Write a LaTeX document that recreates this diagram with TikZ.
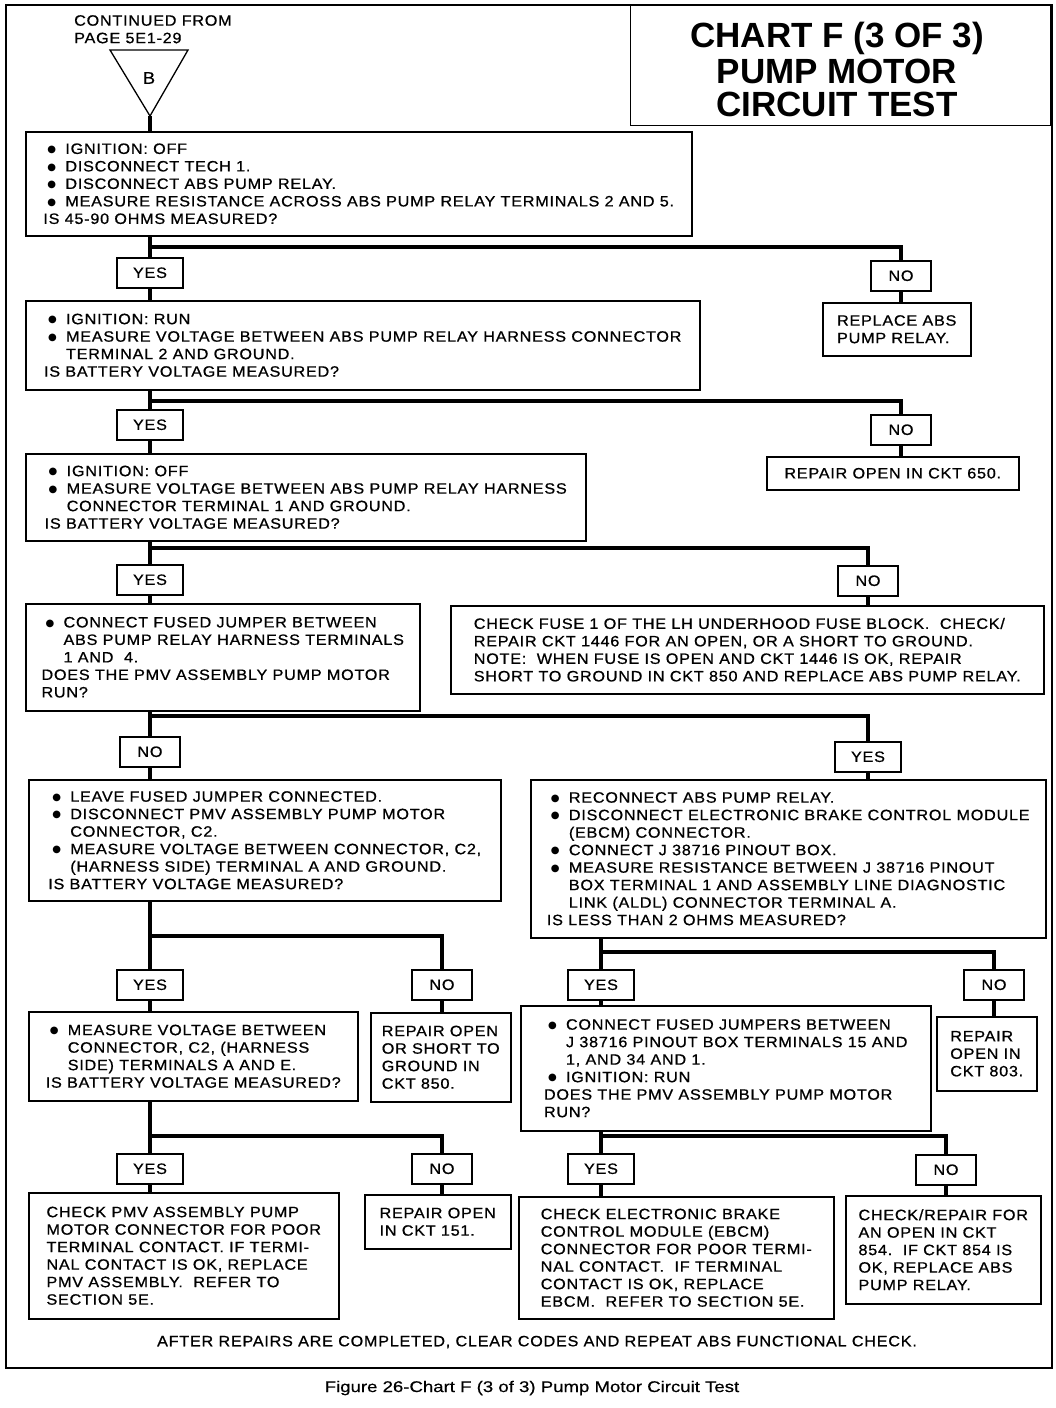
\documentclass[tikz,border=0pt]{standalone}
\usepackage{fontspec}
\setmainfont{Liberation Sans}[FakeStretch=1.08,LetterSpace=5,FakeBold=0.8]
\newfontfamily\ttlfamily{Liberation Sans}[FakeStretch=1.0]
\newfontfamily\capfamily{Liberation Sans}[FakeStretch=1.2,FakeBold=0.5]
\newfontfamily\symfam{DejaVu Sans}
\newcommand\chartbody{\fontsize{15}{17.5}\selectfont}
\newcommand\bl{\hspace*{4pt}\makebox[18pt][l]{\raisebox{1.2pt}{\symfam\fontsize{10}{10}\selectfont ●}}}
\newcommand\ind{\hspace*{22pt}}
\tikzset{
  box/.style={draw, line width=1.5pt, align=left, anchor=north west, inner sep=0pt, font=\chartbody},
  yn/.style={draw, line width=1.5pt, anchor=north, minimum height=30pt, inner sep=0pt, font=\chartbody},
  yesbox/.style={yn, minimum width=66pt},
  nobox/.style={yn, minimum width=60pt},
  conn/.style={line width=4pt},
  ttlline/.style={font={\ttlfamily\bfseries\fontsize{35}{35}\selectfont}, inner sep=0pt},
}
\begin{document}
\begin{tikzpicture}[x=1pt,y=-1pt]
\useasboundingbox (0,0) rectangle (1056,1408);
\draw[line width=1.3pt] (6,5) rectangle (1052,1368);

% title
\node[draw, line width=1.3pt, minimum width=420pt, minimum height=120pt, anchor=north west, inner sep=0pt] (tbox) at (630,5) {};
\node[ttlline] (ttl1) at (837,38) {CHART F (3 OF 3)};
\node[ttlline] (ttl2) at (837,71) {PUMP MOTOR};
\node[ttlline] (ttl3) at (837,104) {CIRCUIT TEST};

% continued
\node[font=\chartbody, align=left, anchor=north west, inner sep=0pt] (cont) at (74,15) {CONTINUED FROM\\PAGE 5E1-29};
\draw[line width=1.3pt] (110,50) -- (188,50) -- (150,116) -- cycle;
\coordinate (tri) at (150,116);
\node[font={\fontsize{17}{17}\selectfont}, inner sep=0pt] (tB) at (149,78) {B};

% boxes
\node[box, minimum width=666pt, minimum height=104pt] (b1) at (25,131) {\bl IGNITION: OFF\\\bl DISCONNECT TECH 1.\\\bl DISCONNECT ABS PUMP RELAY.\\\bl MEASURE RESISTANCE ACROSS ABS PUMP RELAY TERMINALS 2 AND 5.\\IS 45-90 OHMS MEASURED?};
\node[box, minimum width=674pt, minimum height=89pt] (b2) at (25,300) {\bl IGNITION: RUN\\\bl MEASURE VOLTAGE BETWEEN ABS PUMP RELAY HARNESS CONNECTOR\\\ind TERMINAL 2 AND GROUND.\\IS BATTERY VOLTAGE MEASURED?};
\node[box, minimum width=148pt, minimum height=53pt] (r1) at (822,302) {REPLACE ABS\\PUMP RELAY.};
\node[box, minimum width=560pt, minimum height=87pt] (b3) at (25,453) {\bl IGNITION: OFF\\\bl MEASURE VOLTAGE BETWEEN ABS PUMP RELAY HARNESS\\\ind CONNECTOR TERMINAL 1 AND GROUND.\\IS BATTERY VOLTAGE MEASURED?};
\node[box, minimum width=252pt, minimum height=33pt] (r2) at (766,456) {REPAIR OPEN IN CKT 650.};
\node[box, minimum width=394pt, minimum height=107pt] (b4) at (25,603) {\bl CONNECT FUSED JUMPER BETWEEN\\\ind ABS PUMP RELAY HARNESS TERMINALS\\\ind 1 AND\ \ 4.\\DOES THE PMV ASSEMBLY PUMP MOTOR\\RUN?};
\node[box, minimum width=593pt, minimum height=88pt] (r3) at (450,605) {CHECK FUSE 1 OF THE LH UNDERHOOD FUSE BLOCK.\ \ CHECK/\\REPAIR CKT 1446 FOR AN OPEN, OR A SHORT TO GROUND.\\NOTE:\ \ WHEN FUSE IS OPEN AND CKT 1446 IS OK, REPAIR\\SHORT TO GROUND IN CKT 850 AND REPLACE ABS PUMP RELAY.};
\node[box, minimum width=472pt, minimum height=121pt] (b5) at (28,779) {\bl LEAVE FUSED JUMPER CONNECTED.\\\bl DISCONNECT PMV ASSEMBLY PUMP MOTOR\\\ind CONNECTOR, C2.\\\bl MEASURE VOLTAGE BETWEEN CONNECTOR, C2,\\\ind (HARNESS SIDE) TERMINAL A AND GROUND.\\IS BATTERY VOLTAGE MEASURED?};
\node[box, minimum width=515pt, minimum height=158pt] (b6) at (530,779) {\bl RECONNECT ABS PUMP RELAY.\\\bl DISCONNECT ELECTRONIC BRAKE CONTROL MODULE\\\ind (EBCM) CONNECTOR.\\\bl CONNECT J 38716 PINOUT BOX.\\\bl MEASURE RESISTANCE BETWEEN J 38716 PINOUT\\\ind BOX TERMINAL 1 AND ASSEMBLY LINE DIAGNOSTIC\\\ind LINK (ALDL) CONNECTOR TERMINAL A.\\IS LESS THAN 2 OHMS MEASURED?};
\node[box, minimum width=329pt, minimum height=89pt] (b7) at (28,1011) {\bl MEASURE VOLTAGE BETWEEN\\\ind CONNECTOR, C2, (HARNESS\\\ind SIDE) TERMINALS A AND E.\\IS BATTERY VOLTAGE MEASURED?};
\node[box, minimum width=140pt, minimum height=89pt] (b8) at (370,1012) {REPAIR OPEN\\OR SHORT TO\\GROUND IN\\CKT 850.};
\node[box, minimum width=410pt, minimum height=125pt] (b9) at (520,1005) {\bl CONNECT FUSED JUMPERS BETWEEN\\\ind J 38716 PINOUT BOX TERMINALS 15 AND\\\ind 1, AND 34 AND 1.\\\bl IGNITION: RUN\\DOES THE PMV ASSEMBLY PUMP MOTOR\\RUN?};
\node[box, minimum width=100pt, minimum height=74pt] (b10) at (936,1016) {REPAIR\\OPEN IN\\CKT 803.};
\node[box, minimum width=310pt, minimum height=126pt] (b11) at (28,1192) {CHECK PMV ASSEMBLY PUMP\\MOTOR CONNECTOR FOR POOR\\TERMINAL CONTACT. IF TERMI-\\NAL CONTACT IS OK, REPLACE\\PMV ASSEMBLY.\ \ REFER TO\\SECTION 5E.};
\node[box, minimum width=146pt, minimum height=54pt] (b12) at (364,1194) {REPAIR OPEN\\IN CKT 151.};
\node[box, minimum width=315pt, minimum height=122pt] (b13) at (518,1196) {CHECK ELECTRONIC BRAKE\\CONTROL MODULE (EBCM)\\CONNECTOR FOR POOR TERMI-\\NAL CONTACT.\ \ IF TERMINAL\\CONTACT IS OK, REPLACE\\EBCM.\ \ REFER TO SECTION 5E.};
\node[box, minimum width=195pt, minimum height=108pt] (b14) at (845,1195) {CHECK/REPAIR FOR\\AN OPEN IN CKT\\854.\ \ IF CKT 854 IS\\OK, REPLACE ABS\\PUMP RELAY.};

% yes/no
\node[yesbox] (y1) at (150,257) {YES};
\node[nobox]  (n1) at (901,260) {NO};
\node[yesbox] (y2) at (150,409) {YES};
\node[nobox]  (n2) at (901,414) {NO};
\node[yesbox] (y3) at (150,564) {YES};
\node[nobox]  (n3) at (868,565) {NO};
\node[nobox]  (n4) at (150,736) {NO};
\node[yesbox] (y4) at (868,741) {YES};
\node[yesbox] (y5) at (150,969) {YES};
\node[nobox]  (n5) at (442,969) {NO};
\node[yesbox] (y6) at (601,969) {YES};
\node[nobox]  (n6) at (994,969) {NO};
\node[yesbox] (y7) at (150,1153) {YES};
\node[nobox]  (n7) at (442,1153) {NO};
\node[yesbox] (y8) at (601,1153) {YES};
\node[nobox]  (n8) at (946,1154) {NO};

% junctions
\coordinate (j1) at (150,247);
\coordinate (j2) at (150,401);
\coordinate (j3) at (150,548);
\coordinate (j4) at (150,716);
\coordinate (j5) at (150,936);
\coordinate (j6) at (601,952);
\coordinate (j7) at (150,1136);
\coordinate (j8) at (601,1136);

% connectors
\draw[conn] (tri) -- (b1.north -| tri);
\draw[conn] (b1.south -| j1) -- (y1.north);
\draw[conn] (j1) -| (n1.north);
\draw[conn] (y1.south) -- (b2.north -| y1);
\draw[conn] (n1.south) -- (r1.north -| n1);

\draw[conn] (b2.south -| j2) -- (y2.north);
\draw[conn] (j2) -| (n2.north);
\draw[conn] (y2.south) -- (b3.north -| y2);
\draw[conn] (n2.south) -- (r2.north -| n2);

\draw[conn] (b3.south -| j3) -- (y3.north);
\draw[conn] (j3) -| (n3.north);
\draw[conn] (y3.south) -- (b4.north -| y3);
\draw[conn] (n3.south) -- (r3.north -| n3);

\draw[conn] (b4.south -| j4) -- (n4.north);
\draw[conn] (j4) -| (y4.north);
\draw[conn] (n4.south) -- (b5.north -| n4);
\draw[conn] (y4.south) -- (b6.north -| y4);

\draw[conn] (b5.south -| j5) -- (y5.north);
\draw[conn] (j5) -| (n5.north);
\draw[conn] (y5.south) -- (b7.north -| y5);
\draw[conn] (n5.south) -- (b8.north -| n5);

\draw[conn] (b6.south -| j6) -- (y6.north);
\draw[conn] (j6) -| (n6.north);
\draw[conn] (y6.south) -- (b9.north -| y6);
\draw[conn] (n6.south) -- (b10.north -| n6);

\draw[conn] (b7.south -| j7) -- (y7.north);
\draw[conn] (j7) -| (n7.north);
\draw[conn] (y7.south) -- (b11.north -| y7);
\draw[conn] (n7.south) -- (b12.north -| n7);

\draw[conn] (b9.south -| j8) -- (y8.north);
\draw[conn] (j8) -| (n8.north);
\draw[conn] (y8.south) -- (b13.north -| y8);
\draw[conn] (n8.south) -- (b14.north -| n8);

% footer
\node[font=\chartbody, inner sep=0pt] (foot) at (537,1342) {AFTER REPAIRS ARE COMPLETED, CLEAR CODES AND REPEAT ABS FUNCTIONAL CHECK.};
\node[font={\capfamily\fontsize{15.5}{17}\selectfont}, inner sep=0pt] (cap) at (532,1388) {Figure 26-Chart F (3 of 3) Pump Motor Circuit Test};
\end{tikzpicture}
\end{document}
